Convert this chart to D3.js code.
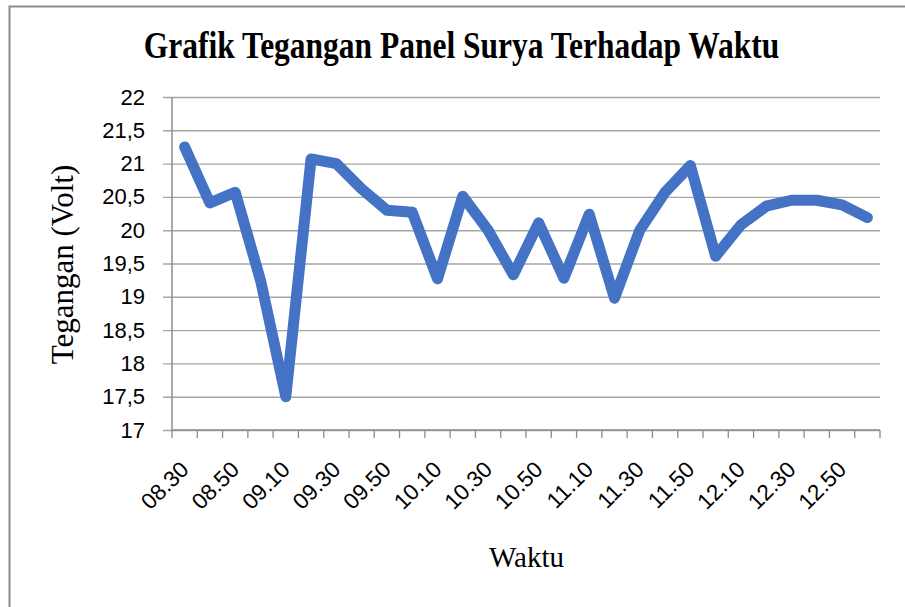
<!DOCTYPE html>
<html>
<head>
<meta charset="utf-8">
<title>Grafik Tegangan Panel Surya Terhadap Waktu</title>
<style>
  body { margin: 0; background: #fff; }
  .grid path { stroke: none; }
  .grid .tick line { stroke: #a6a6a6; stroke-width: 1.4px; }
  .y-axis path, .y-axis line { stroke: none; }
  .x-axis path, .x-axis line { stroke: none; }
  .y-axis text, .x-axis text { font-family: "Liberation Sans", Arial, sans-serif; font-size: 22px; fill: #000; }
  .x-axis text { font-size: 22.5px; }
</style>
</head>
<body>
<script src="https://d3js.org/d3.v7.min.js"></script>
<script>
// data
var waktu = ["08.30", "08.40", "08.50", "09.00", "09.10", "09.20", "09.30", "09.40",
             "09.50", "10.00", "10.10", "10.20", "10.30", "10.40", "10.50", "11.00",
             "11.10", "11.20", "11.30", "11.40", "11.50", "12.00", "12.10", "12.20",
             "12.30", "12.40", "12.50", "13.00"];
var tegangan = [21.25, 20.41, 20.57, 19.25, 17.5, 21.07, 21.0, 20.62,
                20.3, 20.27, 19.27, 20.51, 20.0, 19.33, 20.11, 19.28,
                20.24, 18.98, 20.0, 20.57, 20.97, 19.61, 20.08, 20.36,
                20.45, 20.45, 20.38, 20.19];
var xLabels = ["08.30", "08.50", "09.10", "09.30", "09.50", "10.10", "10.30",
               "10.50", "11.10", "11.30", "11.50", "12.10", "12.30", "12.50"];
var yTicks = [17, 17.5, 18, 18.5, 19, 19.5, 20, 20.5, 21, 21.5, 22];

var width = 905, height = 607;
var plotL = 172, plotR = 880, plotT = 97, plotB = 430;

var svg = d3.select("body").append("svg")
    .attr("width", width)
    .attr("height", height);

// chart frame (cropped at right / bottom)
svg.append("path")
    .attr("d", "M9.5," + height + " V6.5 H" + width)
    .attr("fill", "none")
    .attr("stroke", "#8c8c8c")
    .attr("stroke-width", 2);

var x = d3.scaleBand().domain(waktu).range([plotL, plotR]);
var y = d3.scaleLinear().domain([17, 22]).range([plotB, plotT]);

// gridlines
svg.append("g")
    .attr("class", "grid")
    .attr("transform", "translate(163,0)")
    .call(d3.axisLeft(y).tickValues(yTicks).tickSize(-(plotR - 163)).tickFormat(""));

// y labels
svg.append("g")
    .attr("class", "y-axis")
    .attr("transform", "translate(" + plotL + ",0)")
    .call(d3.axisLeft(y).tickValues(yTicks).tickSize(0).tickPadding(27)
        .tickFormat(function(d) { return String(d).replace(".", ","); }));

// axis lines
svg.append("line")
    .attr("x1", plotL).attr("x2", plotL)
    .attr("y1", plotT).attr("y2", plotB)
    .attr("stroke", "#8c8c8c").attr("stroke-width", 1.5);
svg.append("line")
    .attr("x1", plotL).attr("x2", plotR)
    .attr("y1", plotB).attr("y2", plotB)
    .attr("stroke", "#8c8c8c").attr("stroke-width", 1.5);

// category tick marks on boundaries
var bounds = waktu.map(function(d) { return x(d); }).concat([plotR]);
svg.selectAll(".xtick")
    .data(bounds)
    .enter()
    .append("line")
    .attr("class", "xtick")
    .attr("x1", function(d) { return d; })
    .attr("x2", function(d) { return d; })
    .attr("y1", plotB)
    .attr("y2", plotB + 8)
    .attr("stroke", "#8c8c8c")
    .attr("stroke-width", 1.3);

// x labels
var xAxis = svg.append("g")
    .attr("class", "x-axis")
    .attr("transform", "translate(" + x.bandwidth() / 2 + "," + plotB + ")")
    .call(d3.axisBottom(d3.scalePoint().domain(waktu).range([plotL, plotR - x.bandwidth()]))
        .tickValues(xLabels).tickSize(0));
xAxis.selectAll("text")
    .attr("x", 0).attr("y", 0).attr("dy", 0)
    .attr("text-anchor", "end")
    .attr("transform", "translate(5,41) rotate(-45)");

// line
var line = d3.line()
    .x(function(d, i) { return x(waktu[i]) + x.bandwidth() / 2; })
    .y(function(d) { return y(d); });

svg.append("path")
    .datum(tegangan)
    .attr("d", line)
    .attr("fill", "none")
    .attr("stroke", "#4472C4")
    .attr("stroke-width", 11)
    .attr("stroke-linejoin", "round")
    .attr("stroke-linecap", "round");

// titles
svg.append("text")
    .attr("transform", "translate(461.5,58) scale(1,1.18)")
    .attr("text-anchor", "middle")
    .attr("font-family", "'Liberation Serif', 'Times New Roman', serif")
    .attr("font-weight", "bold")
    .attr("font-size", "31.5px")
    .text("Grafik Tegangan Panel Surya Terhadap Waktu");

svg.append("text")
    .attr("transform", "translate(73,264.5) rotate(-90)")
    .attr("text-anchor", "middle")
    .attr("font-family", "'Liberation Serif', 'Times New Roman', serif")
    .attr("font-size", "31px")
    .text("Tegangan (Volt)");

svg.append("text")
    .attr("x", 526.5)
    .attr("y", 567)
    .attr("text-anchor", "middle")
    .attr("font-family", "'Liberation Serif', 'Times New Roman', serif")
    .attr("font-size", "29px")
    .text("Waktu");
</script>
</body>
</html>
